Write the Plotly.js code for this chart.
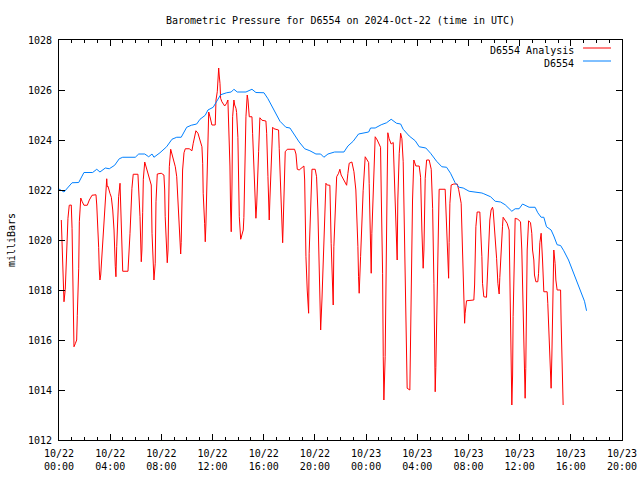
<!DOCTYPE html>
<html>
<head>
<meta charset="utf-8">
<script src="https://cdn.plot.ly/plotly-3.0.1.min.js"></script>
<style>html,body{margin:0;padding:0;background:#fff;}#chart{width:640px;height:480px;}</style>
</head>
<body>
<div id="chart"></div>
<script>
// Hours since 2024-10-22 00:00 UTC
const analysisHours = [0.18,0.29,0.34,0.39,0.49,0.55,0.65,0.70,0.80,0.96,1.02,1.07,1.12,1.17,1.27,1.38,1.43,1.54,1.59,1.70,1.80,1.95,2.21,2.37,2.58,2.89,2.95,3.05,3.10,3.15,3.20,3.26,3.36,3.52,3.62,3.73,3.77,3.83,3.98,4.09,4.20,4.30,4.40,4.45,4.51,4.61,4.66,4.77,4.87,4.98,5.39,5.45,5.55,5.70,5.80,6.17,6.23,6.33,6.43,6.48,6.54,6.59,6.70,6.80,6.95,7.11,7.21,7.27,7.37,7.42,7.52,7.58,7.68,7.99,8.20,8.26,8.30,8.41,8.46,8.52,8.57,8.62,8.73,8.83,8.98,9.09,9.20,9.30,9.40,9.45,9.51,9.55,9.61,9.66,9.77,9.87,10.18,10.39,10.49,10.60,10.70,10.86,10.96,11.07,11.17,11.23,11.27,11.38,11.43,11.48,11.54,11.64,11.70,11.80,11.95,12.21,12.27,12.37,12.42,12.48,12.52,12.58,12.63,12.73,12.95,13.10,13.20,13.26,13.36,13.41,13.46,13.52,13.57,13.67,13.73,13.83,13.88,13.98,14.04,14.09,14.20,14.30,14.40,14.45,14.51,14.61,14.71,14.77,14.87,15.08,15.13,15.23,15.34,15.39,15.45,15.55,15.60,15.70,15.86,16.17,16.23,16.33,16.38,16.43,16.48,16.59,16.64,16.70,16.80,17.16,17.21,17.32,17.42,17.48,17.52,17.58,17.68,17.84,18.41,18.52,18.62,18.77,18.88,19.14,19.20,19.24,19.30,19.40,19.51,19.55,19.66,19.77,20.02,20.13,20.23,20.29,20.39,20.45,20.55,20.65,20.76,20.86,20.96,21.17,21.27,21.38,21.43,21.48,21.59,21.70,21.85,21.95,22.05,22.21,22.37,22.48,22.58,22.68,22.89,23.05,23.20,23.30,23.36,23.41,23.46,23.57,23.67,23.77,23.93,24.09,24.20,24.24,24.30,24.40,24.45,24.55,24.61,24.71,24.87,24.98,25.13,25.18,25.29,25.34,25.39,25.49,25.60,25.65,25.70,25.80,25.96,26.12,26.27,26.38,26.43,26.48,26.59,26.70,26.80,26.90,26.95,27.05,27.16,27.21,27.42,27.48,27.52,27.63,27.73,27.89,28.15,28.26,28.36,28.46,28.52,28.62,28.73,28.93,29.09,29.20,29.30,29.35,29.40,29.45,29.51,29.61,29.66,29.71,30.18,30.23,30.34,30.39,30.45,30.49,30.55,30.65,30.86,31.12,31.23,31.43,31.54,31.64,31.70,31.74,31.85,32.42,32.48,32.58,32.68,32.89,32.95,33.05,33.10,33.20,33.41,33.46,33.57,33.67,33.77,33.88,33.93,34.04,34.20,34.30,34.40,34.45,34.55,34.66,34.71,34.87,35.02,35.18,35.23,35.29,35.34,35.39,35.45,35.49,35.60,35.65,35.86,36.07,36.17,36.27,36.38,36.43,36.48,36.54,36.59,36.70,36.85,36.95,37.01,37.11,37.16,37.27,37.42,37.48,37.52,37.58,37.68,37.73,37.79,37.89,38.15,38.20,38.26,38.36,38.41,38.46,38.52,38.57,38.62,38.67,38.77,38.83,38.93,39.20,39.24,39.30,39.35,39.40];
const analysisPressure = [1020.8,1019.13,1018.03,1017.53,1018.03,1018.93,1019.93,1020.87,1021.39,1021.4,1020.47,1018.93,1016.69,1015.73,1015.85,1016.0,1016.99,1018.87,1020.73,1021.68,1021.55,1021.39,1021.39,1021.6,1021.79,1021.81,1021.4,1020.53,1019.71,1018.8,1018.4,1018.6,1019.47,1020.67,1022.0,1022.45,1022.13,1022.15,1021.87,1021.71,1021.2,1020.4,1018.93,1018.53,1019.73,1021.07,1021.73,1022.27,1020.2,1018.75,1018.75,1019.23,1020.27,1022.07,1022.63,1022.63,1022.13,1020.93,1019.13,1019.6,1021.09,1022.43,1023.12,1022.93,1022.69,1022.43,1022.2,1020.27,1019.07,1018.4,1019.07,1021.53,1022.64,1022.67,1022.6,1022.0,1020.93,1019.73,1019.09,1019.6,1021.33,1022.93,1023.63,1023.4,1023.07,1022.93,1022.53,1021.47,1020.67,1019.87,1019.44,1019.9,1021.73,1022.8,1023.49,1023.65,1023.65,1023.57,1023.87,1024.13,1024.37,1024.27,1024.11,1023.95,1023.73,1023.07,1021.87,1020.67,1019.93,1020.6,1021.73,1023.67,1025.12,1024.93,1024.6,1024.6,1025.6,1025.93,1026.47,1026.88,1026.6,1026.27,1025.67,1025.53,1025.36,1025.47,1025.6,1024.73,1022.96,1021.2,1020.33,1022.2,1024.93,1025.6,1025.4,1025.27,1025.1,1024.11,1022.53,1020.93,1020.03,1020.2,1020.4,1020.9,1023.2,1024.93,1025.8,1025.6,1024.93,1024.93,1024.27,1022.87,1021.53,1020.87,1021.4,1022.47,1023.53,1024.89,1024.79,1024.76,1024.27,1022.53,1021.47,1020.8,1021.6,1023.07,1023.93,1024.51,1024.45,1024.4,1023.67,1022.13,1020.67,1019.89,1020.6,1021.73,1023.53,1023.63,1023.63,1023.44,1022.83,1022.8,1022.85,1022.96,1022.4,1021.07,1019.33,1018.0,1017.07,1019.47,1021.6,1022.83,1022.83,1022.53,1021.2,1019.47,1017.33,1016.4,1017.6,1019.33,1020.93,1022.27,1022.2,1022.19,1019.87,1018.27,1017.4,1019.73,1021.33,1022.53,1022.67,1022.83,1022.6,1022.43,1022.27,1022.19,1022.67,1023.07,1023.12,1022.73,1022.0,1020.93,1019.73,1018.53,1017.87,1019.33,1021.07,1021.97,1023.33,1023.17,1023.1,1022.27,1020.8,1018.67,1020.27,1022.0,1022.93,1024.13,1024.0,1023.85,1023.71,1022.0,1018.67,1015.33,1013.6,1015.33,1018.93,1022.4,1024.29,1024.05,1023.84,1023.9,1021.6,1020.0,1019.2,1021.6,1023.47,1024.27,1024.05,1023.13,1021.6,1017.53,1015.2,1014.07,1014.0,1016.53,1018.67,1021.6,1023.2,1022.96,1022.96,1022.51,1020.4,1018.87,1019.6,1022.47,1023.2,1023.2,1022.83,1021.27,1018.27,1015.47,1013.93,1014.9,1016.93,1019.0,1021.0,1022.03,1022.03,1021.47,1020.27,1019.07,1018.47,1019.9,1021.47,1022.2,1022.24,1022.24,1022.03,1021.47,1019.33,1017.53,1016.67,1017.07,1017.57,1017.6,1018.2,1020.53,1021.12,1021.12,1020.53,1019.33,1018.27,1017.73,1017.71,1018.27,1019.6,1020.8,1021.2,1021.31,1021.2,1020.53,1019.27,1018.27,1017.84,1018.5,1019.73,1020.53,1020.91,1020.8,1020.67,1020.4,1018.27,1017.0,1014.67,1013.4,1014.6,1016.93,1019.6,1020.87,1020.83,1020.73,1019.6,1016.93,1014.87,1013.67,1014.87,1016.93,1019.6,1020.77,1020.69,1020.27,1019.6,1019.2,1018.6,1018.33,1018.33,1018.67,1019.33,1019.89,1020.27,1019.87,1019.2,1017.93,1017.93,1017.47,1016.53,1015.53,1014.6,1014.07,1015.4,1017.2,1018.93,1019.6,1019.07,1018.4,1018.0,1018.0,1016.8,1015.73,1014.2,1013.4];

const stationHours = [0,0.39,1.02,1.54,1.95,2.63,2.95,3.20,3.62,3.93,4.35,4.71,4.98,5.96,6.23,6.70,7.01,7.27,7.42,7.89,8.41,8.83,9.20,9.55,9.98,10.34,10.76,11.02,11.43,11.64,12.05,12.32,12.63,13.10,13.46,13.67,13.93,14.61,15.08,15.39,16.02,16.33,16.80,17.27,17.73,18.05,18.36,18.77,19.20,19.61,20.08,20.45,20.70,21.02,21.54,22.27,22.58,22.99,23.41,23.77,24.20,24.35,24.71,25.18,25.60,25.96,26.38,26.70,26.90,27.37,27.84,28.15,28.67,29.04,29.30,29.51,29.92,30.29,30.60,30.96,31.27,31.59,32.05,32.63,33.05,33.20,33.73,34.09,34.51,34.87,35.39,35.65,35.96,36.23,36.64,36.74,37.21,37.42,37.68,37.89,38.10,38.46,38.67,38.93,39.20,39.45,39.82,40.13,40.45,40.76,41.07,41.23];
const stationPressure = [1022.04,1021.92,1022.29,1022.3,1022.7,1022.7,1022.83,1022.72,1022.88,1022.85,1022.99,1023.25,1023.31,1023.31,1023.44,1023.44,1023.33,1023.44,1023.31,1023.49,1023.73,1024.03,1024.11,1024.11,1024.51,1024.59,1024.64,1024.83,1024.99,1025.2,1025.31,1025.52,1025.81,1025.89,1025.92,1026.03,1025.92,1025.92,1026.03,1025.9,1025.89,1025.65,1025.23,1024.75,1024.51,1024.48,1024.24,1023.92,1023.65,1023.57,1023.44,1023.44,1023.31,1023.44,1023.52,1023.52,1023.76,1023.95,1024.24,1024.29,1024.32,1024.48,1024.48,1024.61,1024.69,1024.83,1024.67,1024.64,1024.43,1024.16,1023.97,1023.73,1023.68,1023.47,1023.28,1023.15,1022.93,1022.91,1022.67,1022.29,1022.11,1022.08,1021.95,1021.92,1021.88,1021.85,1021.73,1021.55,1021.52,1021.41,1021.15,1021.25,1021.25,1021.44,1021.36,1021.31,1021.31,1021.09,1020.91,1020.91,1020.53,1020.4,1020.16,1019.81,1019.78,1019.57,1019.2,1018.8,1018.4,1017.92,1017.55,1017.17];

const seriesNames = ["D6554 Analysis", "D6554"];
const seriesColors = ["#ff0000", "#0080ff"];
const titleText = "Barometric Pressure for D6554 on 2024-Oct-22 (time in UTC)";
const yTitle = "milliBars";

const base = Date.UTC(2024, 9, 22, 0, 0, 0);
const toTime = hs => hs.map(h => base + h * 3600000);

const FONT = "DejaVu Sans Mono, monospace";

const traces = [
  {x: toTime(analysisHours), y: analysisPressure, type: "scatter", mode: "lines",
   name: seriesNames[0], line: {color: seriesColors[0], width: 1}},
  {x: toTime(stationHours), y: stationPressure, type: "scatter", mode: "lines",
   name: seriesNames[1], line: {color: seriesColors[1], width: 1}}
];

const layout = {
  width: 640, height: 480,
  margin: {l: 59, r: 18, t: 40, b: 40, pad: 0},
  paper_bgcolor: "#fff", plot_bgcolor: "#fff",
  font: {family: FONT, size: 10, color: "#000"},
  showlegend: false,
  title: {text: titleText, x: 0.5, xref: "paper", xanchor: "center",
          y: 1 - 20/480, yref: "container", yanchor: "middle",
          font: {family: FONT, size: 10, color: "#000"}},
  xaxis: {
    type: "date",
    range: ["2024-10-22 00:00", "2024-10-23 20:00"],
    tick0: "2024-10-22 00:00", dtick: 4 * 3600000,
    tickformat: "%m/%d<br>%H:%M",
    showgrid: false, zeroline: false,
    showline: true, linecolor: "#000", linewidth: 1, mirror: "allticks",
    ticks: "inside", ticklen: 6, tickcolor: "#000", tickwidth: 1,
    minor: {dtick: 3600000, ticks: "inside", ticklen: 3, tickcolor: "#000", tickwidth: 1, showgrid: false},
    tickfont: {family: FONT, size: 10, color: "#000"},
    ticklabelstandoff: 4,
    fixedrange: true
  },
  yaxis: {
    range: [1012, 1028], dtick: 2, tick0: 1012,
    showgrid: false, zeroline: false,
    showline: true, linecolor: "#000", linewidth: 1, mirror: "allticks",
    ticks: "inside", ticklen: 6, tickcolor: "#000", tickwidth: 1,
    tickfont: {family: FONT, size: 10, color: "#000"},
    ticklabelstandoff: 4,
    title: {text: yTitle, standoff: 10, font: {family: FONT, size: 10, color: "#000"}},
    fixedrange: true
  },
  annotations: [
    {text: seriesNames[0], xref: "paper", yref: "paper", x: (576-59)/563, y: (440-50)/400,
     xanchor: "right", yanchor: "middle", showarrow: false, font: {family: FONT, size: 10, color: "#000"}},
    {text: seriesNames[1], xref: "paper", yref: "paper", x: (576-59)/563, y: (440-63)/400,
     xanchor: "right", yanchor: "middle", showarrow: false, font: {family: FONT, size: 10, color: "#000"}}
  ],
  shapes: [
    {type: "line", xref: "paper", yref: "paper", x0: (583-59)/563, x1: (611-59)/563,
     y0: (440-48)/400, y1: (440-48)/400, line: {color: seriesColors[0], width: 1}},
    {type: "line", xref: "paper", yref: "paper", x0: (583-59)/563, x1: (611-59)/563,
     y0: (440-61)/400, y1: (440-61)/400, line: {color: seriesColors[1], width: 1}}
  ]
};

Plotly.newPlot("chart", traces, layout, {displayModeBar: false, staticPlot: true});
</script>
</body>
</html>
